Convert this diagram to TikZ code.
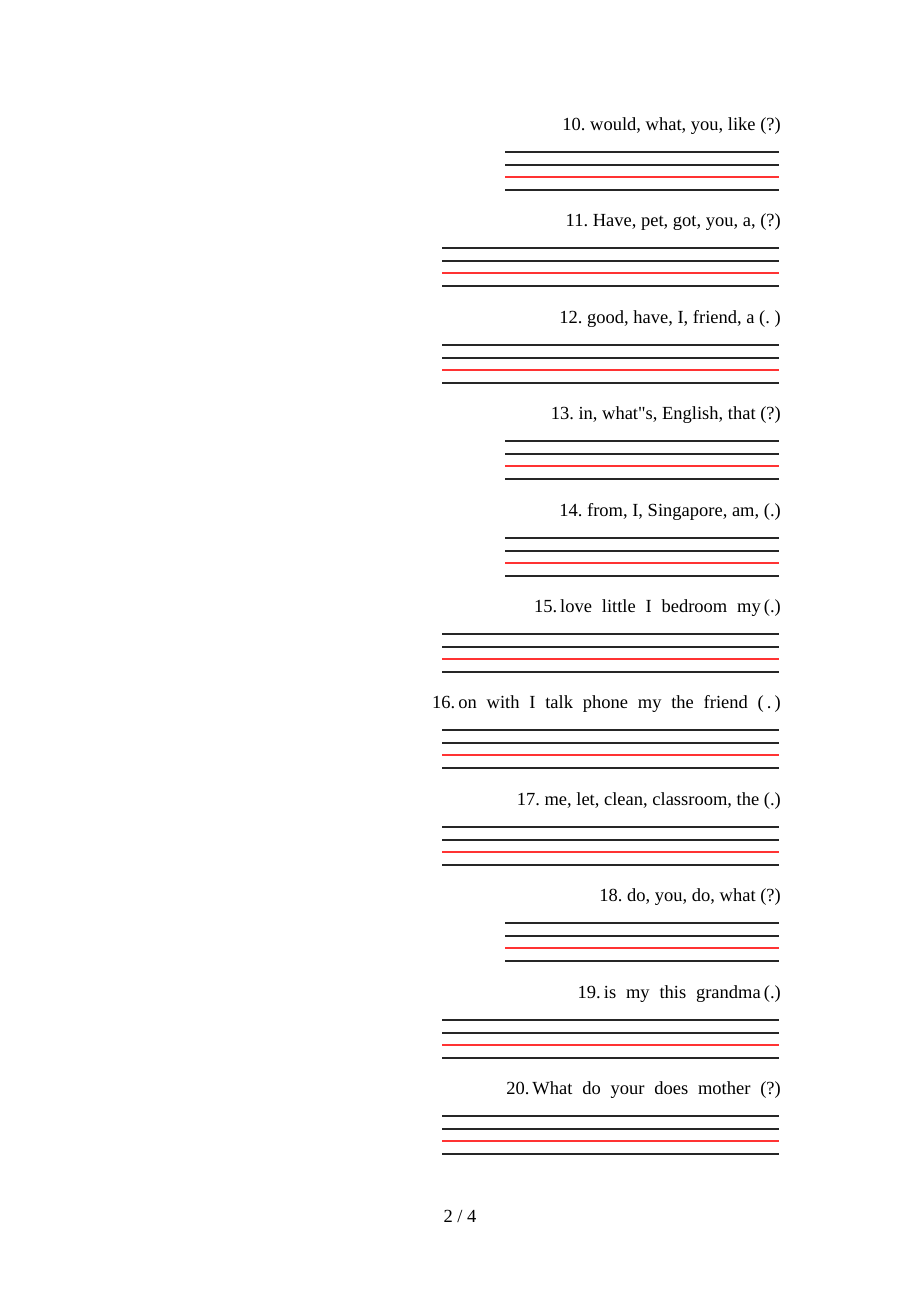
\documentclass[tikz,border=0pt]{standalone}
\usepackage{fontspec}
\setmainfont{Liberation Serif}
\newfontfamily\plainserif{Liberation Serif}
\newcommand\wsp{\hspace{9.8pt}}
\begin{document}
\frenchspacing
\begin{tikzpicture}[x=1pt,y=-1pt,
  qtext/.style={anchor=east,inner sep=0pt,font=\fontsize{18.5}{22}\selectfont},
  rule/.style={line width=1.1pt,black!85},
  redrule/.style={line width=1.1pt,red!80!white}]
\useasboundingbox[fill=white] (0,0) rectangle (920,1302);
\foreach \i/\y/\xl/\t in {
  10/124/505/{10. would, what, you, like (?)},
  11/220/442/{11. Have, pet, got, you, a, (?)},
  12/317/442/{12. good, have, I, friend, a (. )},
  13/413/505/{13. in, what{\plainserif "}s, English, that (?)},
  14/510/505/{14. from, I, Singapore, am, (.)},
  15/606/442/{15.\,love\wsp little\wsp I\wsp bedroom\wsp my\,(.)},
  16/702/442/{16.\,on\wsp with\wsp I\wsp talk\wsp phone\wsp my\wsp the\wsp friend\wsp (\,.\,)},
  17/799/442/{17. me, let, clean, classroom, the (.)},
  18/895/505/{18. do, you, do, what (?)},
  19/992/442/{19.\,is\wsp my\wsp this\wsp grandma\,(.)},
  20/1088/442/{20.\,What\wsp do\wsp your\wsp does\wsp mother\wsp (?)}}{
  \node[qtext] (q\i) at (781,\y+2) {\t};
  \draw[rule] (\xl,\y+28) -- (779,\y+28);
  \draw[rule] (\xl,\y+41) -- (779,\y+41);
  \draw[redrule] (\xl,\y+53) -- (779,\y+53);
  \draw[rule] (\xl,\y+66) -- (779,\y+66);
}
\node[inner sep=0pt,font=\fontsize{18.5}{22}\selectfont] (page) at (460,1216) {2 / 4};
\end{tikzpicture}
\end{document}
